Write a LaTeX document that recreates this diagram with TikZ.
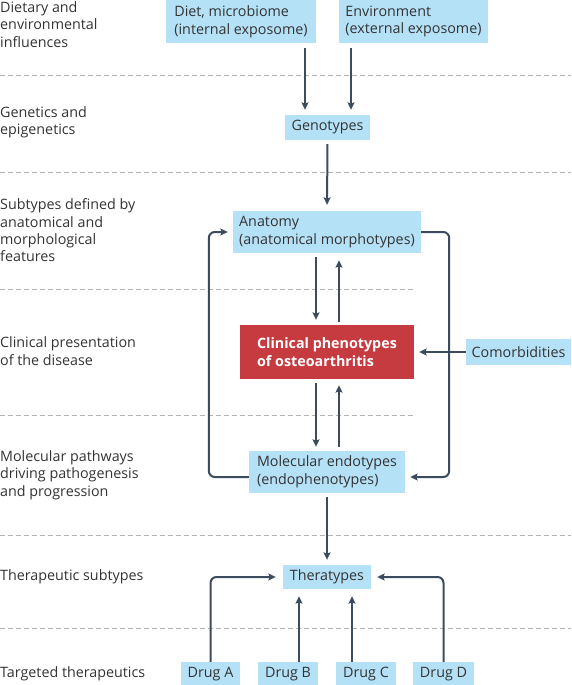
\documentclass[tikz,border=0pt]{standalone}
\usepackage{fontspec}
\setmainfont{Open Sans}
\usetikzlibrary{arrows.meta,calc}
\definecolor{boxblue}{HTML}{B5E1F7}
\definecolor{boxred}{HTML}{C63B3F}
\definecolor{arrcol}{HTML}{3D4B5F}
\definecolor{dashcol}{HTML}{B4B4B4}
\definecolor{txtcol}{HTML}{333333}
\tikzset{
  lbl/.style={anchor=west,align=left,inner sep=0pt,text=txtcol,font=\fontsize{14.3}{17.3}\selectfont},
  bbox/.style={fill=boxblue,align=left,inner sep=0pt,text=txtcol,font=\fontsize{14.3}{17.8}\selectfont},
  rbox/.style={fill=boxred,align=left,inner sep=0pt,text=white,font=\fontsize{14.3}{17.8}\selectfont\bfseries},
  arr/.style={draw=arrcol,line width=2pt,-{Stealth[length=7.5pt,width=7pt,inset=1.5pt]}},
  loop/.style={arr,rounded corners=6pt},
  sep/.style={draw=dashcol,line width=0.7pt,dash pattern=on 5pt off 3pt}
}
\begin{document}
\begin{tikzpicture}[x=1pt,y=-1pt]
\useasboundingbox (0,0) rectangle (571,685);
% separators
\draw[sep] (0,75) -- (571,75);
\draw[sep] (0,172) -- (571,172);
\draw[sep] (0,289) -- (415,289);
\draw[sep] (0,415) -- (415,415);
\draw[sep] (0,535) -- (571,535);
\draw[sep] (0,628) -- (571,628);
% left labels
\node[lbl] (l1) at (0,24.5) {Dietary and\\environmental\\influences};
\node[lbl] (l2) at (0,122.5) {Genetics and\\epigenetics};
\node[lbl] (l3) at (0,230.5) {Subtypes defined by\\anatomical and\\morphological\\features};
\node[lbl] (l4) at (0,351) {Clinical presentation\\of the disease};
\node[lbl] (l5) at (0,475) {Molecular pathways\\driving pathogenesis\\and progression};
\node[lbl] (l6) at (0,577) {Therapeutic subtypes};
\node[lbl] (l7) at (0,673.5) {Targeted therapeutics};
% boxes
\node[bbox,minimum width=150pt,minimum height=43pt] (diet) at (241,21.5) {Diet, microbiome\\(internal exposome)};
\node[bbox,minimum width=149pt,minimum height=43pt] (env) at (413.5,21.5) {Environment\\(external exposome)};
\node[bbox,minimum width=85pt,minimum height=25pt] (geno) at (327.5,127.5) {Genotypes};
\node[bbox,minimum width=188pt,minimum height=42pt] (anat) at (327,232) {Anatomy\\(anatomical morphotypes)};
\node[rbox,minimum width=174pt,minimum height=54pt] (clin) at (327,352) {Clinical phenotypes\\of osteoarthritis};
\node[bbox,minimum width=105pt,minimum height=26pt] (comorb) at (518.5,352) {Comorbidities};
\node[bbox,minimum width=156pt,minimum height=42pt] (mol) at (327,472) {Molecular endotypes\\(endophenotypes)};
\node[bbox,minimum width=88pt,minimum height=24pt] (thera) at (327,577) {Theratypes};
\node[bbox,minimum width=59pt,minimum height=24pt] (drugA) at (210.5,674) {Drug A};
\node[bbox,minimum width=60pt,minimum height=24pt] (drugB) at (288,674) {Drug B};
\node[bbox,minimum width=60pt,minimum height=24pt] (drugC) at (366,674) {Drug C};
\node[bbox,minimum width=61pt,minimum height=24pt] (drugD) at (443.5,674) {Drug D};
% arrows
\draw[arr,shorten <=5pt,shorten >=5pt] ([xshift=-22.5pt]geno.north |- diet.south) -- ([xshift=-22.5pt]geno.north);
\draw[arr,shorten <=5pt,shorten >=5pt] ([xshift=23.5pt]geno.north |- env.south) -- ([xshift=23.5pt]geno.north);
\draw[arr,shorten <=4pt,shorten >=6pt] (geno.south) -- (anat.north);
\draw[arr,shorten <=4pt,shorten >=5pt] ([xshift=-11pt]anat.south) -- ([xshift=-11pt]anat.south |- clin.north);
\draw[arr,shorten <=3pt,shorten >=7pt] ([xshift=12pt]clin.north) -- ([xshift=12pt]clin.north |- anat.south);
\draw[arr,shorten <=4pt,shorten >=4pt] ([xshift=-11pt]clin.south) -- ([xshift=-11pt]clin.south |- mol.north);
\draw[arr,shorten <=4pt,shorten >=6pt] ([xshift=12pt]mol.north) -- ([xshift=12pt]mol.north |- clin.south);
\draw[arr,shorten >=5pt] (comorb.west) -- (clin.east);
\draw[loop,shorten >=5pt] (anat.east) -- ++(28,0) |- ([yshift=-5pt]mol.east);
\draw[loop,shorten >=5pt] ([yshift=-5pt]mol.west) -| ([xshift=-24pt]anat.west) -- (anat.west);
\draw[arr,shorten <=4pt,shorten >=5pt] (mol.south) -- (thera.north);
\draw[loop,shorten >=7pt] (drugA.north) |- (thera.west);
\draw[loop,shorten >=6pt] (drugD.north) |- (thera.east);
\draw[arr,shorten >=7pt] ([xshift=-28pt]thera.south |- drugB.north) -- ([xshift=-28pt]thera.south);
\draw[arr,shorten >=7pt] ([xshift=25pt]thera.south |- drugC.north) -- ([xshift=25pt]thera.south);
\end{tikzpicture}
\end{document}
